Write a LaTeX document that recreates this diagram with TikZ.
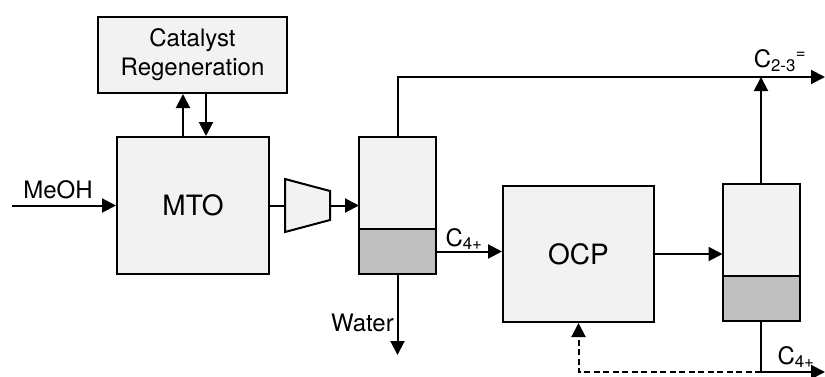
\documentclass[tikz,border=0pt]{standalone}
\usepackage{fontspec}
\setmainfont{TeX Gyre Heros}
\usetikzlibrary{arrows.meta, positioning, calc}
\definecolor{BoxGray}{RGB}{242,242,242}
\definecolor{LiquidGray}{RGB}{191,191,191}

\begin{document}
\begin{tikzpicture}[x=1pt, y=1pt,
  unit/.style={draw, fill=BoxGray, line width=2pt, inner sep=0pt,
               font=\fontsize{28}{32}\selectfont},
  vap/.style={draw, fill=BoxGray, line width=2pt, inner sep=0pt, outer sep=0pt,
              minimum width=77pt, minimum height=92pt},
  liq/.style={draw, fill=LiquidGray, line width=2pt, inner sep=0pt, outer sep=0pt,
              minimum width=77pt, minimum height=45pt},
  lbl/.style={font=\fontsize{24}{28}\selectfont, inner sep=0pt},
  flow/.style={line width=2pt},
  arr/.style={-{Triangle[length=14pt, width=14pt]}, line width=2pt},
]
\useasboundingbox (0,0) rectangle (825,376);

\node[unit, minimum width=189pt, minimum height=76pt, align=center,
      font=\fontsize{24}{29}\selectfont] (regen) at (192.5,321) {Catalyst\\Regeneration};
\node[unit, minimum width=152pt, minimum height=137pt] (mto) at (193,170.5) {MTO};
\node[unit, minimum width=151pt, minimum height=136pt] (ocp) at (578.5,122) {OCP};

\node[vap] (d1t) at (397.5,193) {};
\node[liq, below=0pt of d1t] (d1b) {};
\node[vap] (d2t) at (761,146) {};
\node[liq, below=0pt of d2t] (d2b) {};

\coordinate (cin) at (285,170.5);
\coordinate (cout) at (330,170.5);
\draw[line width=2pt, fill=BoxGray] (285,197) -- (330,185) -- (330,156) -- (285,144) -- cycle;

\coordinate (meoh) at (12,170.5);
\coordinate (c23) at (825,299);
\coordinate (water) at (397.5,21);
\coordinate (c4out) at (825,4);
\coordinate (split) at (d2b.south |- c4out);

\draw[arr] (meoh) -- (mto.west);
\draw[arr] ([xshift=-10pt]mto.north) -- ([xshift=-10pt]mto.north |- regen.south);
\draw[arr] ([xshift=13pt]mto.north |- regen.south) -- ([xshift=13pt]mto.north);
\draw[flow] (mto.east) -- (cin);
\draw[arr] (cout) -- (cout -| d1t.west);
\draw[arr] (d1t.north) |- (c23);
\draw[arr] (d1b.south) -- (water);
\draw[arr] (d1b.east) -- (d1b.east -| ocp.west);
\draw[arr] (ocp.east) -- (ocp.east -| d2t.west);
\draw[arr] (d2t.north) -- (d2t.north |- c23);
\draw[flow] (d2b.south) -- (split);
\draw[arr] (split) -- (c4out);
\draw[arr, dash pattern=on 6pt off 3.5pt] (split) -| (ocp.south);

\node[lbl] (meohlbl) at (58,186) {MeOH};
\node[lbl, anchor=east] (waterlbl) at (394,53) {Water};
\node[lbl] (c4a) at (464,137) {C\textsubscript{4+}};
\node[lbl] (c23lbl) at (780,315) {C\textsubscript{2-3}\textsuperscript{=}};
\node[lbl] (c4b) at (796,19) {C\textsubscript{4+}};
\end{tikzpicture}
\end{document}
